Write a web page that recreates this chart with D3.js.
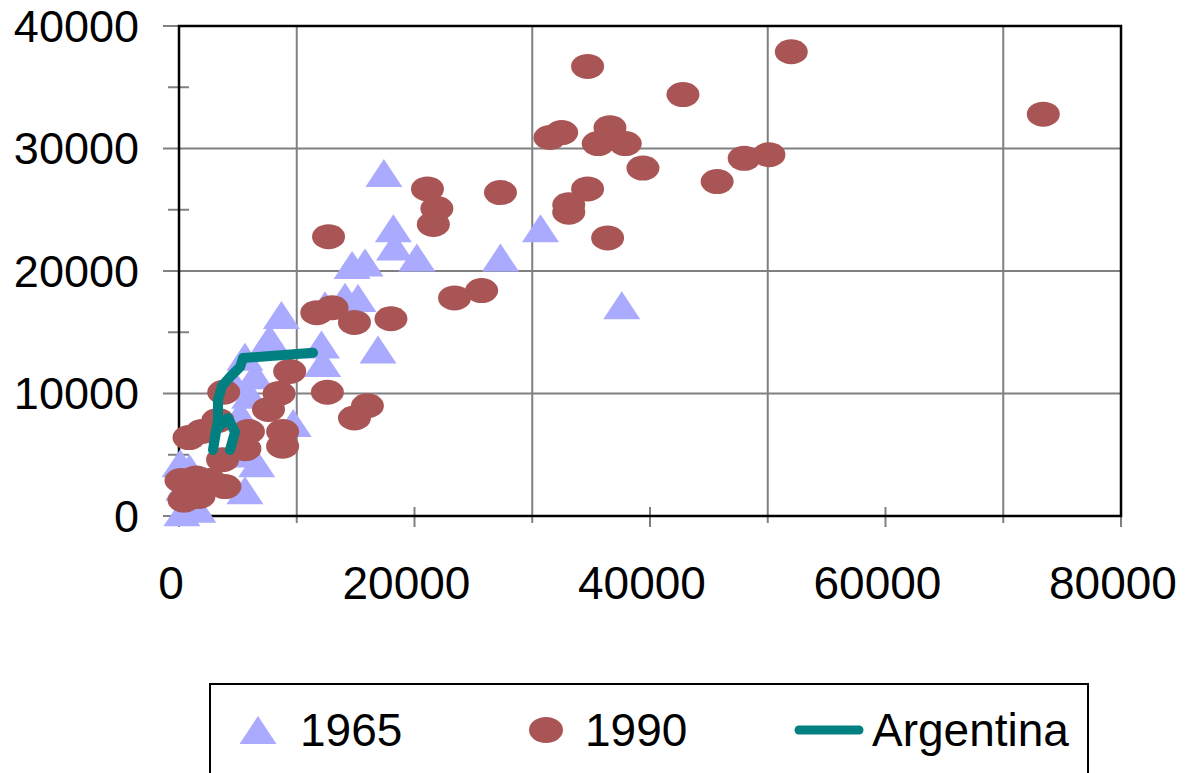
<!DOCTYPE html>
<html>
<head>
<meta charset="utf-8">
<script src="https://cdn.jsdelivr.net/npm/d3@7"></script>
<style>
  html, body { margin: 0; padding: 0; background: #fff; }
  svg { display: block; font-family: "Liberation Sans", Arial, sans-serif; }
</style>
</head>
<body>
<svg id="chart" width="1194" height="773"></svg>
<script>
// ---- data ----
const xTicks = [0, 20000, 40000, 60000, 80000];
const yTicks = [0, 10000, 20000, 30000, 40000];
const xGrid = [10000, 30000, 50000, 70000];
const yMinor = [5000, 15000, 25000, 35000];

const x1965 = [17400, 18200, 18300, 20200, 14700, 15800, 27300, 30700, 37600, 14100,
               15200, 12400, 8700, 7700, 12100, 12200, 16900, 5600, 6450, 4500,
               6000, 9700, 5200, 6000, 6600, 5600, 100, 400, 250, 1600, 900];
const y1965 = [28000, 23500, 22000, 21100, 20500, 20700, 21100, 23500, 17200, 17900,
               17800, 17200, 16400, 14500, 14000, 12500, 13600, 13000, 11500, 11100,
               9900, 7600, 8300, 5100, 4300, 2100, 4300, 2400, 300, 600, 3900];

const x1990 = [73400, 52000, 34700, 42800, 31500, 32500, 36600, 35600, 37900, 39400,
               45700, 48000, 50100, 34700, 33100, 33100, 36400, 21100, 21900, 21600,
               27300, 12700, 23400, 25700, 18000, 14900, 13000, 11700, 9400, 12600,
               16000, 14900, 8500, 7600, 3800, 8800, 8800, 5900, 5600, 3700,
               3900, 850, 1950, 3300, 170, 1450, 2600, 420, 1700];
const y1990 = [32800, 37900, 36700, 34400, 30900, 31300, 31700, 30400, 30400, 28400,
               27300, 29200, 29500, 26700, 25400, 24800, 22700, 26700, 25100, 23800,
               26400, 22800, 17800, 18400, 16100, 15800, 17000, 16600, 11800, 10100,
               9000, 8000, 10000, 8700, 10100, 6900, 5700, 6900, 5500, 4600,
               2400, 6400, 6900, 7800, 2900, 3100, 2900, 1300, 1600];

const xArg = [4330, 4760, 4160, 3140, 2890, 3310, 3310, 3650, 4330, 5180, 5440, 11380];
const yArg = [5390, 6860, 8000, 7020, 5390, 7840, 9470, 10610, 11350, 12160, 12900, 13330];

const legendLabels = ["1965", "1990", "Argentina"];

// ---- chart ----
const svg = d3.select("#chart");
const pL = 179, pR = 1121, pT = 26, pB = 516;
const x = d3.scaleLinear().domain([0, 80000]).range([pL, pR]);
const y = d3.scaleLinear().domain([0, 40000]).range([pB, pT]);

const gridColor = "#808080";
const triColor = "#AAAAFF";
const dotColor = "#AA5555";
const lineColor = "#008080";

// horizontal grid lines (major) extending left of axis
svg.append("g").selectAll("line").data(yTicks).join("line")
  .attr("x1", pL - 16).attr("x2", pR)
  .attr("y1", d => y(d)).attr("y2", d => y(d))
  .attr("stroke", gridColor).attr("stroke-width", 2);

// y minor ticks
svg.append("g").selectAll("line").data(yMinor).join("line")
  .attr("x1", pL - 11).attr("x2", pL + 10)
  .attr("y1", d => y(d)).attr("y2", d => y(d))
  .attr("stroke", gridColor).attr("stroke-width", 2);

// vertical grid lines
svg.append("g").selectAll("line").data(xGrid).join("line")
  .attr("x1", d => x(d)).attr("x2", d => x(d))
  .attr("y1", pT).attr("y2", pB + 7)
  .attr("stroke", gridColor).attr("stroke-width", 2);

// x tick marks
svg.append("g").selectAll("line").data(xTicks).join("line")
  .attr("x1", d => x(d)).attr("x2", d => x(d))
  .attr("y1", pB - 9).attr("y2", pB + 11)
  .attr("stroke", gridColor).attr("stroke-width", 2);

// plot border
svg.append("rect")
  .attr("x", pL).attr("y", pT)
  .attr("width", pR - pL).attr("height", pB - pT)
  .attr("fill", "none").attr("stroke", "#000").attr("stroke-width", 2.5);

// axis labels
svg.append("g").selectAll("text").data(yTicks).join("text")
  .attr("x", 139).attr("y", d => y(d))
  .attr("text-anchor", "end").attr("dominant-baseline", "central")
  .attr("font-size", 45).attr("fill", "#000")
  .text(d => d);

svg.append("g").selectAll("text").data(xTicks).join("text")
  .attr("x", d => x(d) - 8).attr("y", 583)
  .attr("text-anchor", "middle").attr("dominant-baseline", "central")
  .attr("font-size", 46).attr("fill", "#000")
  .text(d => d);

// markers
const triPath = "M0,-14L18.5,14L-18.5,14Z";
svg.append("g").selectAll("path").data(d3.range(x1965.length)).join("path")
  .attr("d", triPath)
  .attr("transform", i => `translate(${x(x1965[i])},${y(y1965[i])})`)
  .attr("fill", triColor);

svg.append("g").selectAll("ellipse").data(d3.range(x1990.length)).join("ellipse")
  .attr("cx", i => x(x1990[i])).attr("cy", i => y(y1990[i]))
  .attr("rx", 16.5).attr("ry", 12.5)
  .attr("fill", dotColor);

// Argentina line
const line = d3.line().x(i => x(xArg[i])).y(i => y(yArg[i]));
svg.append("path")
  .attr("d", line(d3.range(xArg.length)))
  .attr("fill", "none").attr("stroke", lineColor)
  .attr("stroke-width", 10).attr("stroke-linecap", "round").attr("stroke-linejoin", "round");

// legend
const lg = svg.append("g");
lg.append("rect").attr("x", 210).attr("y", 684).attr("width", 878).attr("height", 120)
  .attr("fill", "#fff").attr("stroke", "#000").attr("stroke-width", 2);
const ly = 730;
lg.append("path").attr("d", triPath).attr("transform", `translate(258,${ly})`).attr("fill", triColor);
lg.append("ellipse").attr("cx", 546).attr("cy", ly).attr("rx", 17).attr("ry", 13).attr("fill", dotColor);
lg.append("line").attr("x1", 799).attr("x2", 859).attr("y1", ly).attr("y2", ly)
  .attr("stroke", lineColor).attr("stroke-width", 9).attr("stroke-linecap", "round");
const lx = [300, 585, 872];
lg.selectAll("text").data(legendLabels).join("text")
  .attr("x", (d, i) => lx[i]).attr("y", ly)
  .attr("dominant-baseline", "central")
  .attr("font-size", 46).attr("fill", "#000")
  .text(d => d);
</script>
</body>
</html>
